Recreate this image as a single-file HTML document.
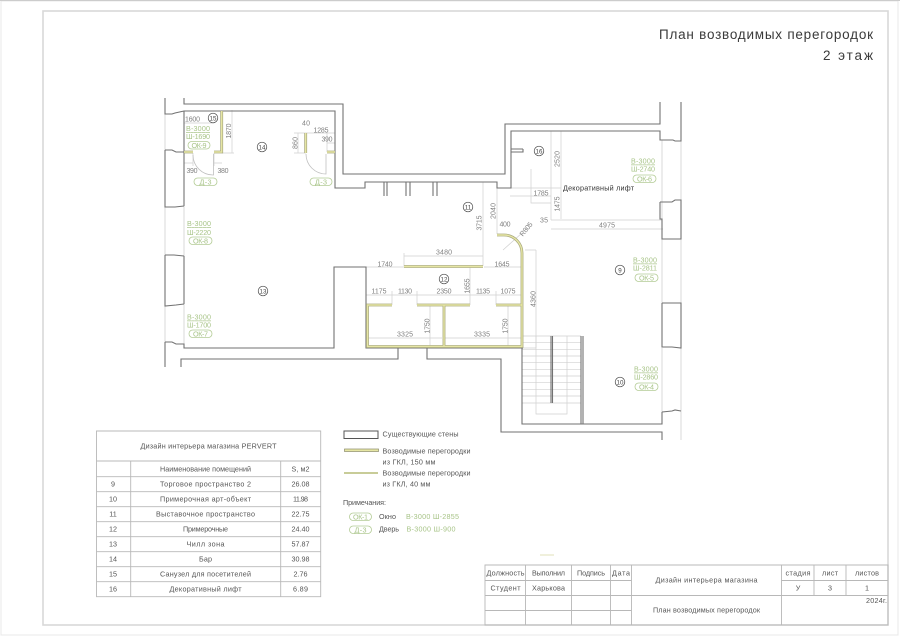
<!DOCTYPE html>
<html><head><meta charset="utf-8"><title>План возводимых перегородок</title>
<style>
html,body{margin:0;padding:0;background:#fff}
svg{display:block}
text{font-family:"Liberation Sans","DejaVu Sans",sans-serif}
.w{fill:none;stroke:#727272;stroke-width:1.1}
.l{fill:none;stroke:#d8d8d8;stroke-width:1}
.d{fill:none;stroke:#d0d0d0;stroke-width:.7}
.po{fill:none;stroke:#a6a67c;stroke-width:2.8}
.pi{fill:none;stroke:#e6e6a4;stroke-width:1.4}
.g{fill:#a8c488;font-size:7.2px;text-anchor:middle}
.pill{fill:none;stroke:#b4cc96;stroke-width:.8}
.t{fill:#808080;font-size:7px;text-anchor:middle}
.c{fill:none;stroke:#444;stroke-width:.7}
.n{fill:#444;font-size:6.2px;text-anchor:middle}
.x{fill:#555;font-size:7.2px;text-anchor:middle}
.s{fill:#555;font-size:7.2px}
.tb{fill:none;stroke:#b8b8b8;stroke-width:.9}
</style></head><body>
<svg width="900" height="636" viewBox="0 0 900 636" xmlns="http://www.w3.org/2000/svg">
<rect width="900" height="636" fill="#fff"/>
<path d="M1,1H898V635H1Z" fill="none" stroke="#e8e8e8" stroke-width="1"/>
<path d="M0,.5H900" stroke="#cccccc" stroke-width="1"/>
<rect x="43" y="11" width="845" height="614" fill="none" stroke="#d8d8d8" stroke-width="1.6"/>

<text x="659" y="39" font-size="13.5" fill="#3a3a3a" textLength="214">План возводимых перегородок</text>
<text x="823" y="60" font-size="13.5" fill="#3a3a3a" textLength="50">2 этаж</text>

<!-- light lines -->
<path class="l" d="M165,114V150M184,206V256M165,207V255M165,306V342M184,304V344M662,140V219M681,141V200M662,239V303M681,239V303M662,348V412M681,348V440M165,344V367"/>
<path class="d" d="M522,336H581M522,342.700H581M522,349.300H581M522,356H581M522,362.700H581M522,369.300H581M522,376H581M522,382.700H581M522,389.300H581M522,396H581M522,403H581M536,336V414H567V336"/>

<!-- dims -->
<path class="d" d="M232,110V153M222,111H234M222,153H234M184,163H193M214,163H222M193,153V166M214,153V166M298,133V153M294,133H306M294,153H306M306,133H335M327,143H335M327,133V152M335,128V152M184,123H214
M483,182V266M497,188V234M404,256H483M404,253V266M483,253V266M366,267H404M484,267H522M470,267V305M366,295H522M392,291V305M417,291V305M470,291V305M496,291V305M430,305V347M508,305V347M368,338H442M445,338H521M503,250L522,233
M551,131V220M561,131V219M497,188H561M510,196H551M531,169V203H551M551,220H662M551,229H663M536,250V348M522,348H536M525,250H536"/>

<!-- walls -->
<path class="w" d="M184,98V104H343V174H505V124H660V102"/>
<path class="w" d="M165,98V114H172L175,113L184,111H335V188H365V182H497V188H511V131H660V140H673L675,141H681V102"/>
<path class="w" d="M184,111V152M165,150H172L176,152H184V206M165,150V207H175L184,206"/>
<path class="w" d="M184,256V304M165,255H172L174,255L184,256M165,255V306L176,305L184,304"/>
<path class="w" d="M165,342H172L176,344H184V348H334V267H366V348H523M165,342V367"/>
<path class="w" d="M181,367V359H398V348M427,348V359H501V432H662V440"/>
<path class="w" d="M384,182V196M387,182V196M406,182V196M410,182V196M433,182V196M437,182V196"/>
<path class="w" d="M511,149H523M511,152H523V149"/>
<path class="w" d="M660,202H672L675,200H681V239H662V219H660V202"/>
<path class="w" d="M662,303H681V348L672,347L662,347V303"/>
<path class="w" d="M662,412L672,411L675,410L681,411M662,412V424H522V348"/>
<path class="w" d="M551,336V403M552.500,336V403M581,336V424M583,336V424"/>

<!-- door leaves -->
<path d="M213.500,154V175A20,20 0 0 1 193,155M326,154V174A20,20 0 0 1 306,154" fill="none" stroke="#c0c0c0" stroke-width=".8"/>

<!-- partitions -->
<path class="po" d="M221.700,111V152H214M184,152H193M327,152H335M305.700,133V153M404,266.500H483M497,235H504A18,18 0 0 1 522,253V346.500H367.500V305H392M417,305H470M496,305H522M444,305V346"/>
<path class="pi" d="M221.700,111V152H214M184,152H193M327,152H335M305.700,133V153M404,266.500H483M497,235H504A18,18 0 0 1 522,253V346.500H367.500V305H392M417,305H470M496,305H522M444,305V346"/>

<!-- room circles -->
<circle class="c" cx="213" cy="118" r="4.800"/><text class="n" x="213" y="120.500">15</text>
<circle class="c" cx="262" cy="147" r="4.800"/><text class="n" x="262" y="149.500">14</text>
<circle class="c" cx="263" cy="291" r="4.800"/><text class="n" x="263" y="293.500">13</text>
<circle class="c" cx="468" cy="207" r="4.800"/><text class="n" x="468" y="209.500">11</text>
<circle class="c" cx="444" cy="279" r="4.800"/><text class="n" x="444" y="281.500">12</text>
<circle class="c" cx="539" cy="151" r="4.800"/><text class="n" x="539" y="153.500">16</text>
<circle class="c" cx="620" cy="270" r="4.800"/><text class="n" x="620" y="272.500">9</text>
<circle class="c" cx="620" cy="382" r="4.800"/><text class="n" x="620" y="384.500">10</text>

<!-- green labels -->
<text class="g" x="198" y="131" textLength="24" text-decoration="underline">В-3000</text>
<text class="g" x="198" y="139" textLength="24">Ш-1690</text>
<rect class="pill" x="188" y="141.500" width="22" height="7.500" rx="3.700"/><text class="g" x="199" y="148" textLength="15">ОК-9</text>
<rect class="pill" x="194" y="178" width="23" height="7.500" rx="3.700"/><text class="g" x="205.500" y="184.500" textLength="12">Д-3</text>
<rect class="pill" x="310" y="178" width="22" height="7.500" rx="3.700"/><text class="g" x="321" y="184.500" textLength="12">Д-3</text>
<text class="g" x="199" y="226" textLength="24" text-decoration="underline">В-3000</text>
<text class="g" x="199" y="235" textLength="24">Ш-2220</text>
<rect class="pill" x="189" y="237" width="23" height="7.500" rx="3.700"/><text class="g" x="200.500" y="243.500" textLength="15">ОК-8</text>
<text class="g" x="199" y="319.500" textLength="24" text-decoration="underline">В-3000</text>
<text class="g" x="199" y="327.500" textLength="24">Ш-1700</text>
<rect class="pill" x="189" y="330" width="23" height="7.500" rx="3.700"/><text class="g" x="200.500" y="336.500" textLength="15">ОК-7</text>
<text class="g" x="643" y="163.500" textLength="24" text-decoration="underline">В-3000</text>
<text class="g" x="643" y="171.500" textLength="24">Ш-2740</text>
<rect class="pill" x="633" y="175" width="23" height="7.500" rx="3.700"/><text class="g" x="644.500" y="181.500" textLength="15">ОК-6</text>
<text class="g" x="645" y="262.500" textLength="24" text-decoration="underline">В-3000</text>
<text class="g" x="645" y="270.500" textLength="24">Ш-2811</text>
<rect class="pill" x="635" y="274" width="23" height="7.500" rx="3.700"/><text class="g" x="646.500" y="280.500" textLength="15">ОК-5</text>
<text class="g" x="646" y="371.500" textLength="24" text-decoration="underline">В-3000</text>
<text class="g" x="646" y="379.500" textLength="24">Ш-2860</text>
<rect class="pill" x="635" y="383" width="23" height="7.500" rx="3.700"/><text class="g" x="646.500" y="389.500" textLength="15">ОК-4</text>

<!-- dim text -->
<text class="t" x="192.500" y="121.500" textLength="15">1600</text>
<text class="t" x="192" y="173" textLength="11">390</text>
<text class="t" x="223" y="173" textLength="11">380</text>
<text class="t" x="306" y="125.500" textLength="8">40</text>
<text class="t" x="321" y="132.500" textLength="15">1285</text>
<text class="t" x="327" y="141.500" textLength="11">390</text>
<text class="t" x="444" y="254.500" textLength="16">3480</text>
<text class="t" x="385" y="266.500" textLength="15">1740</text>
<text class="t" x="502" y="266.500" textLength="15">1645</text>
<text class="t" x="379" y="293.500" textLength="15">1175</text>
<text class="t" x="405" y="293.500" textLength="14">1130</text>
<text class="t" x="444" y="293.500" textLength="15">2350</text>
<text class="t" x="483" y="293.500" textLength="14">1135</text>
<text class="t" x="508" y="293.500" textLength="15">1075</text>
<text class="t" x="405" y="336.500" textLength="16">3325</text>
<text class="t" x="482" y="336.500" textLength="16">3335</text>
<text class="t" x="505" y="226.500" textLength="11">400</text>
<text class="t" x="541" y="195.500" textLength="15">1785</text>
<text class="t" x="544" y="222.500" textLength="8">35</text>
<text class="t" x="607" y="227.500" textLength="16">4975</text>
<text class="t" transform="rotate(-50 526 229)" x="526" y="231.500" textLength="16">R805</text>
<text class="t" transform="rotate(-90 228.500 131)" x="228.500" y="133.500" textLength="15">1870</text>
<text class="t" transform="rotate(-90 295 143)" x="295" y="145.500" textLength="12">860</text>
<text class="t" transform="rotate(-90 493 211)" x="493" y="213.500" textLength="16">2040</text>
<text class="t" transform="rotate(-90 479 223)" x="479" y="225.500" textLength="15">3715</text>
<text class="t" transform="rotate(-90 467 286)" x="467" y="288.500" textLength="15">1655</text>
<text class="t" transform="rotate(-90 427 326)" x="427" y="328.500" textLength="15">1750</text>
<text class="t" transform="rotate(-90 505 326)" x="505" y="328.500" textLength="15">1750</text>
<text class="t" transform="rotate(-90 557 159)" x="557" y="161.500" textLength="16">2520</text>
<text class="t" transform="rotate(-90 557 204)" x="557" y="206.500" textLength="15">1475</text>
<text class="t" transform="rotate(-90 533 299)" x="533" y="301.500" textLength="16">4360</text>
<text x="563" y="190.500" font-size="7.200" fill="#333" textLength="71">Декоративный лифт</text>

<!-- schedule table -->
<path class="tb" d="M96.500,431H320.700V596.700H96.500ZM96.500,461H320.700M96.500,476.700H320.700M96.500,491.700H320.700M96.500,506.700H320.700M96.500,521.700H320.700M96.500,536.700H320.700M96.500,551.700H320.700M96.500,566.700H320.700M96.500,581.700H320.700M130.700,461V596.700M280.700,461V596.700"/>
<text class="x" x="208.500" y="448.500" textLength="136">Дизайн интерьера магазина PERVERT</text>
<text class="x" x="205.500" y="471.500" textLength="91">Наименование помещений</text>
<text class="x" x="300.500" y="471.500" textLength="18">S, м2</text>
<text class="x" x="113" y="486.500">9</text><text class="x" x="205.500" y="486.500" textLength="91">Торговое пространство 2</text><text class="x" x="300.500" y="486.500" textLength="18">26.08</text>
<text class="x" x="113" y="501.500">10</text><text class="x" x="205.500" y="501.500" textLength="91">Примерочная арт-объект</text><text class="x" x="300.500" y="501.500" textLength="15">11.98</text>
<text class="x" x="113" y="516.500">11</text><text class="x" x="205.500" y="516.500" textLength="99">Выставочное пространство</text><text class="x" x="300.500" y="516.500" textLength="18">22.75</text>
<text class="x" x="113" y="531.500">12</text><text class="x" x="205.500" y="531.500" textLength="45">Примерочные</text><text class="x" x="300.500" y="531.500" textLength="18">24.40</text>
<text class="x" x="113" y="546.500">13</text><text class="x" x="205.500" y="546.500" textLength="38">Чилл зона</text><text class="x" x="300.500" y="546.500" textLength="18">57.87</text>
<text class="x" x="113" y="561.500">14</text><text class="x" x="205.500" y="561.500" textLength="13">Бар</text><text class="x" x="300.500" y="561.500" textLength="18">30.98</text>
<text class="x" x="113" y="576.500">15</text><text class="x" x="205.500" y="576.500" textLength="91">Санузел для посетителей</text><text class="x" x="300.500" y="576.500" textLength="14">2.76</text>
<text class="x" x="113" y="591.500">16</text><text class="x" x="205.500" y="591.500" textLength="72">Декоративный лифт</text><text class="x" x="300.500" y="591.500" textLength="15">6.89</text>

<!-- legend -->
<rect x="344" y="431" width="34" height="7.500" fill="none" stroke="#555" stroke-width="1"/>
<text class="s" x="382.500" y="436.500" textLength="76">Существующие стены</text>
<rect x="344.500" y="449" width="34" height="2.500" fill="#e6e6a4" stroke="#8a8a6a" stroke-width=".7"/>
<text class="s" x="382.500" y="453.500" textLength="88">Возводимые перегородки</text>
<text class="s" x="382.500" y="464.500" textLength="53">из ГКЛ, 150 мм</text>
<rect x="344" y="472" width="34" height="2" fill="#c8cc98"/>
<text class="s" x="382.500" y="475.500" textLength="88">Возводимые перегородки</text>
<text class="s" x="382.500" y="486.500" textLength="48">из ГКЛ, 40 мм</text>
<text class="s" x="343" y="505" textLength="43">Примечания:</text>
<rect class="pill" x="349.500" y="513" width="22" height="7.500" rx="3.700"/><text class="g" x="360.500" y="519.500" textLength="15">ОК-1</text>
<text class="s" x="379" y="519" textLength="17">Окно</text>
<text class="g" x="432.500" y="519" textLength="53">В-3000 Ш-2855</text>
<rect class="pill" x="349.500" y="526" width="22" height="7.500" rx="3.700"/><text class="g" x="360.500" y="532.500" textLength="12">Д-3</text>
<text class="s" x="379" y="531.500" textLength="20">Дверь</text>
<text class="g" x="431" y="531.500" textLength="49">В-3000 Ш-900</text>
<path d="M540,555H554" stroke="#e0e0b8" stroke-width="1"/>

<!-- title block -->
<path class="tb" d="M485,565H888V625H485ZM485,580.500H631.500M485,595.500H631.500M485,610.500H631.500M631.500,595.500H781.500M781.500,580.500H888M781.500,595.500H888M525.500,565V625M571.500,565V625M610.500,565V625M631.500,565V625M781.500,565V625M814,565V595.500M846,565V595.500"/>
<text class="x" x="505.500" y="575.500" textLength="38">Должность</text>
<text class="x" x="548.500" y="575.500" textLength="33">Выполнил</text>
<text class="x" x="591" y="575.500" textLength="28">Подпись</text>
<text class="x" x="621" y="575.500" textLength="18">Дата</text>
<text class="x" x="505.500" y="590.500" textLength="30">Студент</text>
<text class="x" x="548.500" y="590.500" textLength="33">Харькова</text>
<text class="x" x="706.500" y="582.500" textLength="102">Дизайн интерьера магазина</text>
<text class="x" x="706.500" y="612.500" textLength="107">План возводимых перегородок</text>
<text class="x" x="798" y="575.500" textLength="25">стадия</text>
<text class="x" x="830" y="575.500" textLength="16">лист</text>
<text class="x" x="867" y="575.500" textLength="24">листов</text>
<text class="x" x="798" y="590.500">У</text>
<text class="x" x="830" y="590.500">3</text>
<text class="x" x="867" y="590.500">1</text>
<text class="s" x="866" y="603" textLength="21">2024г.</text>
</svg>
</body></html>
